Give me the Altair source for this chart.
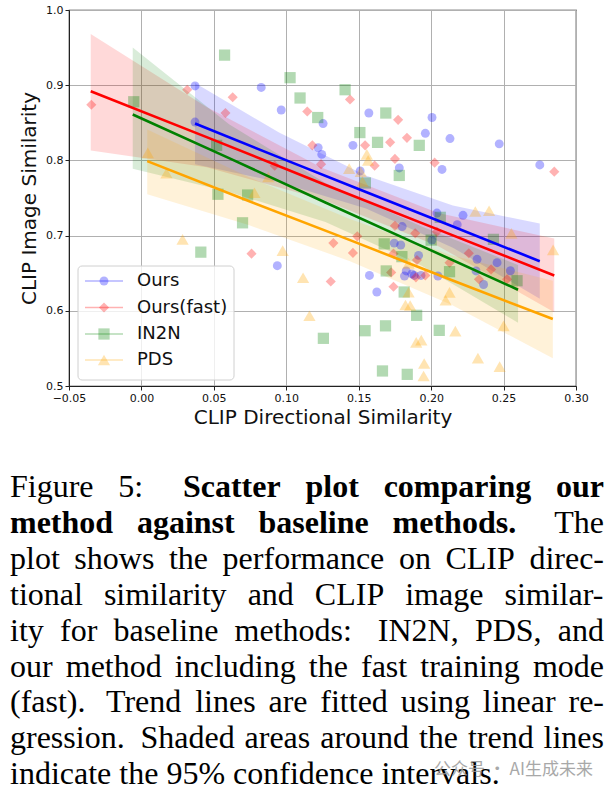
import altair as alt
import pandas as pd

# ---------------- data ----------------
methods = ["Ours", "Ours(fast)", "IN2N", "PDS"]
colors = ["#0000ff", "#ff0000", "#008000", "#ffa500"]
shapes = ["circle", "diamond", "square", "triangle-up"]
sizes = [80, 150, 64, 85]

ours_x = [0.037, 0.037, 0.0827, 0.0965, 0.1254, 0.122, 0.1245, 0.157, 0.2006, 0.196,
          0.213, 0.146, 0.247, 0.178, 0.2075, 0.275, 0.151, 0.0938, 0.1745, 0.179,
          0.180, 0.204, 0.222, 0.218, 0.2005, 0.2317, 0.2455, 0.2547, 0.2362, 0.231,
          0.1574, 0.1625, 0.1828, 0.1816, 0.1883, 0.2047, 0.1913, 0.1867, 0.193]
ours_y = [0.899, 0.851, 0.897, 0.867, 0.849, 0.817, 0.808, 0.863, 0.857, 0.836,
          0.829, 0.820, 0.822, 0.790, 0.788, 0.794, 0.786, 0.660, 0.690, 0.6875,
          0.712, 0.730, 0.727, 0.7145, 0.694, 0.6685, 0.664, 0.6533, 0.635, 0.653,
          0.647, 0.625, 0.653, 0.6463, 0.647, 0.6463, 0.6737, 0.649, 0.647]

fast_x = [-0.0346, 0.0316, 0.063, 0.058, 0.1145, 0.118, 0.124, 0.092, 0.144, 0.1772,
          0.1833, 0.1717, 0.1544, 0.175, 0.2024, 0.161, 0.285, 0.076, 0.1307, 0.1325,
          0.146, 0.149, 0.174, 0.175, 0.189, 0.204, 0.226, 0.2414, 0.2127, 0.233,
          0.2524, 0.174, 0.1724, 0.1895, 0.196, 0.1902]
fast_y = [0.874, 0.894, 0.884, 0.863, 0.865, 0.820, 0.795, 0.793, 0.881, 0.854,
          0.830, 0.824, 0.820, 0.802, 0.797, 0.793, 0.785, 0.676, 0.639, 0.690,
          0.677, 0.699, 0.676, 0.713, 0.703, 0.705, 0.6765, 0.655, 0.664, 0.642,
          0.642, 0.632, 0.651, 0.6445, 0.647, 0.6676]

in2n_x = [-0.0053, 0.0574, 0.1026, 0.1095, 0.1217, 0.0519, 0.0528, 0.0733, 0.1406, 0.1687,
          0.1508, 0.163, 0.1918, 0.178, 0.1546, 0.0698, 0.041, 0.1256, 0.1676, 0.2063,
          0.2, 0.243, 0.2127, 0.2593, 0.2056, 0.190, 0.1814, 0.1685, 0.1544, 0.1664,
          0.1835, 0.169, 0.1798]
in2n_y = [0.878, 0.940, 0.910, 0.883, 0.857, 0.820, 0.755, 0.754, 0.894, 0.863,
          0.837, 0.824, 0.820, 0.780, 0.770, 0.717, 0.678, 0.5634, 0.689, 0.7243,
          0.694, 0.695, 0.652, 0.640, 0.574, 0.594, 0.625, 0.580, 0.5735, 0.520,
          0.5155, 0.653, 0.672]

pds_x = [0.0044, 0.0173, 0.078, 0.0876, 0.1556, 0.1565, 0.1434, 0.1514, 0.0284, 0.0975,
         0.1116, 0.116, 0.2305, 0.240, 0.2554, 0.2842, 0.250, 0.2323, 0.2473, 0.2167,
         0.210, 0.2127, 0.1823, 0.1855, 0.1844, 0.1897, 0.1932, 0.1952, 0.1948, 0.1844,
         0.1526]
pds_y = [0.810, 0.783, 0.757, 0.778, 0.808, 0.800, 0.789, 0.785, 0.695, 0.680,
         0.644, 0.5935, 0.732, 0.733, 0.703, 0.681, 0.580, 0.537, 0.5257, 0.573,
         0.614, 0.6245, 0.6077, 0.607, 0.6246, 0.558, 0.561, 0.530, 0.5133, 0.663,
         0.772]

# trend lines and 95% CI bands
ours_tx = [0.037, 0.095, 0.155, 0.215, 0.275]
ours_ty = [0.849, 0.804, 0.758, 0.712, 0.666]
ours_lo = [0.795, 0.771, 0.736, 0.684, 0.616]
ours_hi = [0.903, 0.837, 0.780, 0.740, 0.716]

fast_tx = [-0.035, 0.045, 0.125, 0.205, 0.285]
fast_ty = [0.892, 0.831, 0.769, 0.708, 0.647]
fast_lo = [0.813, 0.791, 0.748, 0.686, 0.598]
fast_hi = [0.968, 0.871, 0.790, 0.730, 0.696]

in2n_tx = [-0.006, 0.0605, 0.127, 0.1935, 0.260]
in2n_ty = [0.861, 0.803, 0.744, 0.686, 0.628]
in2n_lo = [0.789, 0.758, 0.718, 0.660, 0.584]
in2n_hi = [0.950, 0.848, 0.770, 0.712, 0.661]

pds_tx = [0.004, 0.074, 0.144, 0.214, 0.284]
pds_ty = [0.799, 0.746, 0.694, 0.641, 0.589]
pds_lo = [0.755, 0.714, 0.666, 0.608, 0.537]
pds_hi = [0.841, 0.778, 0.722, 0.674, 0.640]

x_ticks = [-0.05, 0.0, 0.05, 0.10, 0.15, 0.20, 0.25, 0.30]
y_ticks = [0.5, 0.6, 0.7, 0.8, 0.9, 1.0]
x_title = "CLIP Directional Similarity"
y_title = "CLIP Image Similarity"

caption_lines = [
    "Figure 5: Scatter plot comparing our",
    "method against baseline methods. The",
    "plot shows the performance on CLIP direc-",
    "tional similarity and CLIP image similar-",
    "ity for baseline methods: IN2N, PDS, and",
    "our method including the fast training mode",
    "(fast). Trend lines are fitted using linear re-",
    "gression. Shaded areas around the trend lines",
    "indicate the 95% confidence intervals.",
]
bold_words = {0: [2, 3, 4, 5], 1: [0, 1, 2, 3]}
watermark = "公众号 · AI生成未来"

# ---------------- layout helpers ----------------
X0, X1 = -0.05, 0.30
Y0, Y1 = 0.5, 1.0
LEFT, TOP, PW, PH = 69, 10, 507, 376
PAGE_W, PAGE_H = 613, 796


def dx(px):
    return X0 + (px - LEFT) * (X1 - X0) / PW


def dy(py):
    return Y1 - (py - TOP) * (Y1 - Y0) / PH


xs = alt.Scale(domain=[X0, X1], nice=False, zero=False)
ys = alt.Scale(domain=[Y0, Y1], nice=False, zero=False)
cs = alt.Scale(domain=methods, range=colors)
ss = alt.Scale(domain=methods, range=shapes)
zs = alt.Scale(domain=methods, range=sizes)

pts = pd.concat([
    pd.DataFrame({"x": ours_x, "y": ours_y, "method": "Ours"}),
    pd.DataFrame({"x": fast_x, "y": fast_y, "method": "Ours(fast)"}),
    pd.DataFrame({"x": in2n_x, "y": in2n_y, "method": "IN2N"}),
    pd.DataFrame({"x": pds_x, "y": pds_y, "method": "PDS"}),
])
trend = pd.concat([
    pd.DataFrame({"x": ours_tx, "y": ours_ty, "lo": ours_lo, "hi": ours_hi, "method": "Ours"}),
    pd.DataFrame({"x": fast_tx, "y": fast_ty, "lo": fast_lo, "hi": fast_hi, "method": "Ours(fast)"}),
    pd.DataFrame({"x": in2n_tx, "y": in2n_ty, "lo": in2n_lo, "hi": in2n_hi, "method": "IN2N"}),
    pd.DataFrame({"x": pds_tx, "y": pds_ty, "lo": pds_lo, "hi": pds_hi, "method": "PDS"}),
])

x_axis = alt.Axis(values=x_ticks, format=".2f", title=x_title,
                  labelExpr="replace(datum.label, '-', '\u2212')",
                  labelFlush=False, labelOverlap=False,
                  grid=True, gridColor="#b0b0b0", gridWidth=1,
                  domainColor="#222", tickColor="#222", tickSize=4,
                  labelFont="DejaVu Sans", labelFontSize=11, labelColor="#111", labelPadding=2,
                  titleFont="DejaVu Sans", titleFontSize=20, titleFontWeight="normal",
                  titleColor="#111", titlePadding=4)
y_axis = alt.Axis(values=y_ticks, format=".1f", title=y_title,
                  labelFlush=False, labelOverlap=False,
                  grid=True, gridColor="#b0b0b0", gridWidth=1,
                  domainColor="#222", tickColor="#222", tickSize=4,
                  labelFont="DejaVu Sans", labelFontSize=11, labelColor="#111", labelPadding=2,
                  titleFont="DejaVu Sans", titleFontSize=20, titleFontWeight="normal",
                  titleColor="#111", titlePadding=6)


def X(field):
    return alt.X(field, scale=xs, axis=x_axis)


def Y(field, **kw):
    return alt.Y(field, scale=ys, axis=y_axis, **kw)


bands = alt.Chart(trend).mark_area(opacity=0.15).encode(
    x=X("x:Q"), y=Y("lo:Q", stack=None), y2="hi:Q",
    color=alt.Color("method:N", scale=cs, legend=None),
    detail="method:N",
)

points = alt.Chart(pts).mark_point(filled=True, opacity=0.3, strokeWidth=0).encode(
    x=X("x:Q"), y=Y("y:Q"),
    color=alt.Color("method:N", scale=cs, legend=None),
    shape=alt.Shape("method:N", scale=ss, legend=None),
    size=alt.Size("method:N", scale=zs, legend=None),
)

lines = alt.Chart(trend).mark_line(strokeWidth=2.6).encode(
    x=X("x:Q"), y=Y("y:Q"),
    color=alt.Color("method:N", scale=cs, legend=None),
    detail="method:N",
)

# ---------------- legend (drawn by hand) ----------------
row_py = [281, 307.5, 334, 360]
leg_box = pd.DataFrame({"x": [dx(78)], "x2": [dx(234)], "y": [dy(266)], "y2": [dy(380)]})
box = alt.Chart(leg_box).mark_rect(fill="white", fillOpacity=0.8, stroke="#d0d0d0",
                                   strokeWidth=1, cornerRadius=4).encode(
    x=X("x:Q"), x2="x2:Q", y=Y("y:Q"), y2="y2:Q",
)
leg = pd.DataFrame({
    "method": methods,
    "x": [dx(85)] * 4, "x2": [dx(123)] * 4, "mx": [dx(104)] * 4, "tx": [dx(137)] * 4,
    "y": [dy(p) for p in row_py],
})
leg_lines = alt.Chart(leg).mark_rule(strokeWidth=1.6, opacity=0.3).encode(
    x=X("x:Q"), x2="x2:Q", y=Y("y:Q"),
    color=alt.Color("method:N", scale=cs, legend=None),
)
leg_pts = alt.Chart(leg).mark_point(filled=True, opacity=0.3, strokeWidth=0).encode(
    x=X("mx:Q"), y=Y("y:Q"),
    color=alt.Color("method:N", scale=cs, legend=None),
    shape=alt.Shape("method:N", scale=ss, legend=None),
    size=alt.Size("method:N", scale=zs, legend=None),
)
leg_txt = alt.Chart(leg).mark_text(align="left", baseline="middle", font="DejaVu Sans",
                                   fontSize=18, color="#111").encode(
    x=X("tx:Q"), y=Y("y:Q"), text="method:N",
)

# ---------------- caption (justified, Times metrics) ----------------
TR = dict(zip("abcdefghijklmnopqrstuvwxyz",
              [444, 500, 444, 500, 444, 333, 500, 500, 278, 278, 500, 278, 778, 500, 500, 500,
               500, 333, 389, 278, 500, 500, 722, 500, 500, 444]))
TR.update(zip("ABCDEFGHIJKLMNOPQRSTUVWXYZ",
              [722, 667, 667, 722, 611, 556, 722, 722, 333, 389, 722, 611, 889, 722, 722, 556,
               722, 667, 556, 611, 722, 722, 944, 722, 722, 611]))
TR.update({c: 500 for c in "0123456789"})
TR.update({".": 250, ",": 250, ":": 278, "-": 333, "(": 333, ")": 333, "%": 833})
TB = dict(zip("abcdefghijklmnopqrstuvwxyz",
              [500, 556, 444, 556, 444, 333, 500, 556, 278, 333, 556, 278, 833, 556, 500, 556,
               556, 444, 389, 333, 556, 500, 722, 500, 500, 444]))
TB.update(zip("ABCDEFGHIJKLMNOPQRSTUVWXYZ",
              [722, 667, 722, 722, 667, 611, 778, 778, 389, 500, 778, 667, 944, 722, 778, 611,
               778, 722, 556, 667, 722, 722, 1000, 722, 722, 667]))
TB.update({c: 500 for c in "0123456789"})
TB.update({".": 250, ",": 250, ":": 333, "-": 333, "(": 333, ")": 333, "%": 1000})

FS = 32
CAP_L, CAP_R = 10, 604
BASE0, PITCH = 497, 35.9


def wwidth(word, bold):
    t = TB if bold else TR
    return sum(t.get(c, 500) for c in word) * FS / 1000.0


rows = []
for li, line in enumerate(caption_lines):
    words = line.split(" ")
    bset = bold_words.get(li, [])
    widths = [wwidth(w, i in bset) for i, w in enumerate(words)]
    last = li == len(caption_lines) - 1
    weights = [1.6 if w[-1] in ".:" else 1.0 for w in words[:-1]]
    if last:
        gaps = [0.25 * FS] * len(weights)
    else:
        g = (CAP_R - CAP_L - sum(widths)) / sum(weights)
        gaps = [g * wt for wt in weights]
    cx = CAP_L
    for i, w in enumerate(words):
        rows.append({"word": w, "bold": i in bset, "x": dx(cx), "y": dy(BASE0 + li * PITCH)})
        if i < len(gaps):
            cx += widths[i] + gaps[i]
cap = pd.DataFrame(rows)

cap_norm = alt.Chart(cap[~cap["bold"]]).mark_text(
    align="left", baseline="alphabetic", font="Liberation Serif", fontSize=FS, color="black"
).encode(x=X("x:Q"), y=Y("y:Q"), text="word:N")
cap_bold = alt.Chart(cap[cap["bold"]]).mark_text(
    align="left", baseline="alphabetic", font="Liberation Serif", fontSize=FS,
    fontWeight="bold", color="black"
).encode(x=X("x:Q"), y=Y("y:Q"), text="word:N")

wm = pd.DataFrame({"t": [watermark], "x": [dx(434)], "y": [dy(770)]})
wm_txt = alt.Chart(wm).mark_text(align="left", baseline="middle", font="Noto Sans CJK SC",
                                 fontSize=17, color="#9a9a9a", opacity=0.85).encode(
    x=X("x:Q"), y=Y("y:Q"), text="t:N")

chart = alt.layer(bands, points, lines, box, leg_lines, leg_pts, leg_txt,
                  cap_norm, cap_bold, wm_txt).properties(
    width=PW, height=PH,
    autosize=alt.AutoSizeParams(type="none"),
    padding={"left": LEFT, "top": TOP, "right": PAGE_W - LEFT - PW, "bottom": PAGE_H - TOP - PH},
    background="white",
).configure_view(stroke="#222", strokeWidth=1.2)

chart.save("out.html", embed_options={"renderer": "svg", "actions": False})
